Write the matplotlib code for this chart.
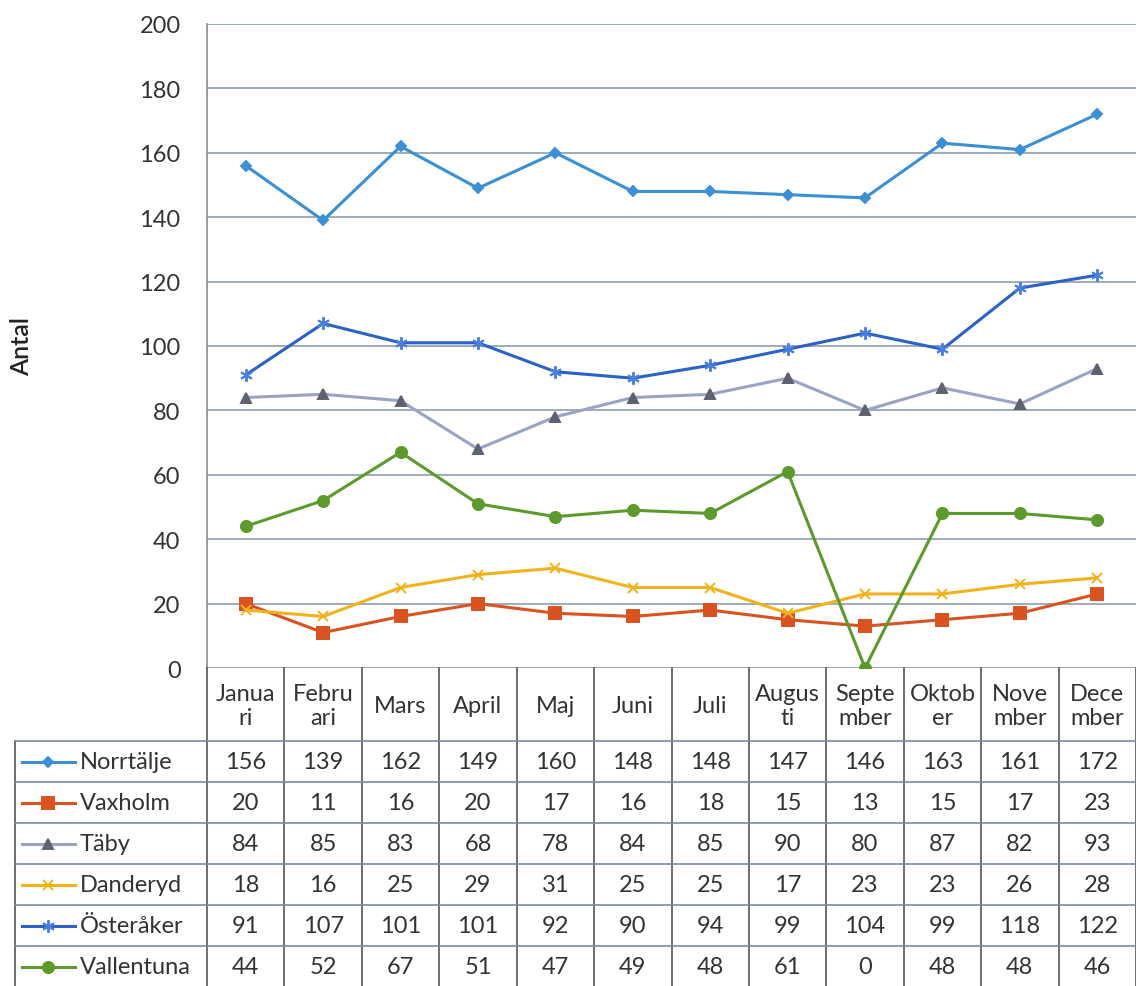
import matplotlib.pyplot as plt
import numpy as np

plt.rcParams['font.family'] = ['Lato', 'DejaVu Sans']

# monthly counts per municipality
months = ['Janua\nri', 'Febru\nari', 'Mars', 'April', 'Maj', 'Juni', 'Juli',
          'Augus\nti', 'Septe\nmber', 'Oktob\ner', 'Nove\nmber', 'Dece\nmber']
series_names = ['Norrtälje', 'Vaxholm', 'Täby', 'Danderyd', 'Österåker', 'Vallentuna']
norrtalje = [156, 139, 162, 149, 160, 148, 148, 147, 146, 163, 161, 172]
vaxholm = [20, 11, 16, 20, 17, 16, 18, 15, 13, 15, 17, 23]
taby = [84, 85, 83, 68, 78, 84, 85, 90, 80, 87, 82, 93]
danderyd = [18, 16, 25, 29, 31, 25, 25, 17, 23, 23, 26, 28]
osteraker = [91, 107, 101, 101, 92, 90, 94, 99, 104, 99, 118, 122]
vallentuna = [44, 52, 67, 51, 47, 49, 48, 61, 0, 48, 48, 46]
all_values = [norrtalje, vaxholm, taby, danderyd, osteraker, vallentuna]

# styles: line colour, marker, marker colour, marker size
styles = [
    ('#3b8fd4', 'D', '#3b8fd4', 5.5),
    ('#d9521f', 's', '#d9521f', 8),
    ('#9aa3c4', '^', '#5d6170', 6.5),
    ('#f2b21c', 'x', '#f2b21c', 7),
    ('#2a62c6', (6, 2, 0), '#4a80dc', 9),
    ('#5c9a2c', 'o', '#5c9a2c', 8),
]

W, H = 1136, 987
left, right, top, bottom = 207, 1136, 25, 669
fig = plt.figure(figsize=(W / 100, H / 100), dpi=100)
ax = fig.add_axes([left / W, 1 - bottom / H, (right - left) / W, (bottom - top) / H])

x = np.arange(len(months)) + 0.5
for vals, (lc, mk, mc, ms) in zip(all_values, styles):
    ax.plot(x, vals, color=lc, lw=2.2, marker=mk, markersize=ms,
            markerfacecolor=mc, markeredgecolor=mc, markeredgewidth=1.4)

ax.set_xlim(0, 12)
ax.set_ylim(0, 200)
ax.set_yticks(range(0, 201, 20))
ax.set_xticks([])
ax.tick_params(axis='y', length=0, labelsize=17, labelcolor='#333333', pad=19)
ax.grid(axis='y', color='#8c9db3', lw=1.2)
ax.set_axisbelow(True)
for s in ['top', 'right', 'bottom']:
    ax.spines[s].set_visible(False)
ax.spines['left'].set_color('#8c8c8c')
ax.spines['left'].set_linewidth(1.2)

fig.text(22 / W, 1 - 346 / H, 'Antal', rotation=90, ha='center', va='center',
         fontsize=18, color='#222222', fontweight='semibold')

# data table drawn in pixel space
tab = fig.add_axes([0, 0, 1, 1])
tab.set_xlim(0, W)
tab.set_ylim(H, 0)
tab.axis('off')

col_w = (right - left) / 12
header_bottom = 742
row_h = 41
tcol = '#333333'
lcol = '#555555'
fs = 17

# header
for i, m in enumerate(months):
    cx = left + (i + 0.5) * col_w
    tab.text(cx, (bottom + header_bottom) / 2 + 1, m, ha='center', va='center',
             fontsize=fs, color=tcol, linespacing=1.2)

# vertical lines
for i in range(13):
    xx = left + i * col_w
    tab.plot([xx, xx], [bottom, H], color=lcol, lw=1.2)
tab.plot([15, 15], [header_bottom, H], color=lcol, lw=1.2)

# horizontal lines
for r in range(len(series_names) + 1):
    yy = header_bottom + r * row_h
    tab.plot([15, right], [yy, yy], color='#7a8a9a', lw=1.2)

for r, (name, vals, (lc, mk, mc, ms)) in enumerate(zip(series_names, all_values, styles)):
    cy = header_bottom + (r + 0.5) * row_h
    tab.plot([22, 75], [cy, cy], color=lc, lw=2.2)
    tab.plot([48], [cy], marker=mk, markersize=ms, color=mc, markeredgewidth=1.4)
    tab.text(80, cy, name, ha='left', va='center', fontsize=fs, color=tcol)
    for i, v in enumerate(vals):
        cx = left + (i + 0.5) * col_w
        tab.text(cx, cy, str(v), ha='center', va='center', fontsize=fs, color=tcol)

fig.savefig('out.png', dpi=100)
